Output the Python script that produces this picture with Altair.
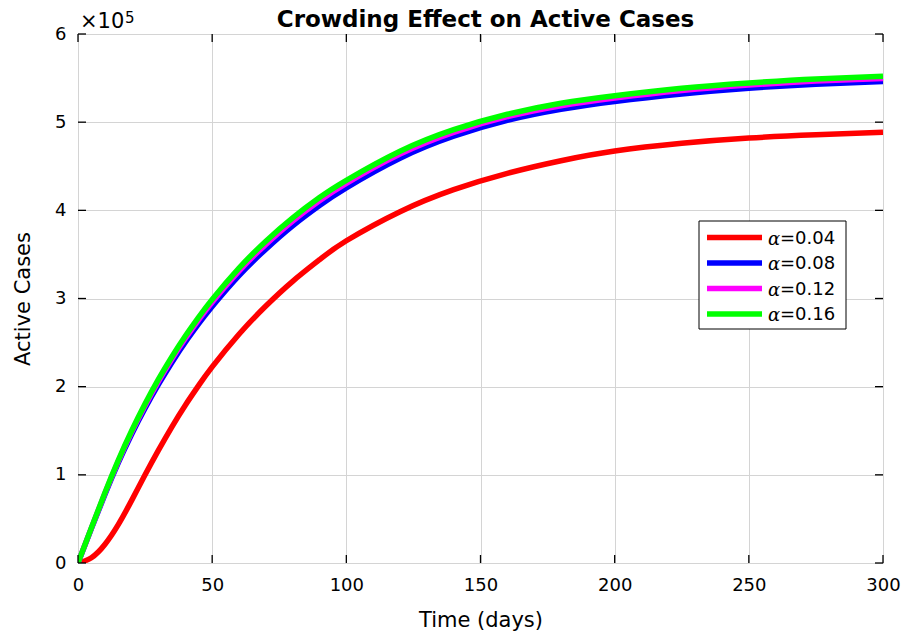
import altair as alt
import pandas as pd

# Simulated active cases (in units of 10^5) for four crowding coefficients
days = [0, 5, 10, 15, 20, 25, 30, 35, 40, 45, 50, 60, 70, 80, 90, 100,
        120, 140, 160, 180, 200, 225, 250, 275, 300]

cases_a004 = [0, 0.06, 0.21, 0.435, 0.71, 1.00, 1.28, 1.545, 1.79, 2.015, 2.225,
              2.595, 2.915, 3.195, 3.44, 3.655, 3.985, 4.235, 4.42, 4.563, 4.673,
              4.76, 4.82, 4.857, 4.885]
cases_a008 = [0, 0.39, 0.775, 1.135, 1.46, 1.755, 2.025, 2.275, 2.505, 2.715, 2.91,
              3.26, 3.56, 3.825, 4.055, 4.255, 4.59, 4.84, 5.02, 5.145, 5.235,
              5.32, 5.385, 5.43, 5.46]
cases_a012 = [0, 0.396, 0.787, 1.153, 1.484, 1.785, 2.061, 2.314, 2.547, 2.76, 2.958,
              3.311, 3.614, 3.879, 4.109, 4.306, 4.638, 4.885, 5.062, 5.187, 5.274,
              5.359, 5.421, 5.466, 5.496]
cases_a016 = [0, 0.40, 0.795, 1.165, 1.50, 1.805, 2.085, 2.34, 2.575, 2.79, 2.99,
              3.345, 3.65, 3.915, 4.145, 4.34, 4.67, 4.915, 5.09, 5.215, 5.30,
              5.385, 5.445, 5.49, 5.52]

series_labels = ["0.04", "0.08", "0.12", "0.16"]
series_colors = ["#ff0000", "#0000ff", "#ff00ff", "#00ff00"]
series_values = [cases_a004, cases_a008, cases_a012, cases_a016]

x_ticks = [0, 50, 100, 150, 200, 250, 300]
y_ticks = [0, 1, 2, 3, 4, 5, 6]

W, H = 805, 529
FONT = "DejaVu Sans"
GRID = "#d4d4d4"

x_scale = alt.Scale(domain=[0, 300], nice=False, zero=False)
y_scale = alt.Scale(domain=[0, 6], nice=False, zero=False)

x_axis = alt.Axis(values=x_ticks, format="d", title="Time (days)", grid=True,
                  gridColor=GRID, gridWidth=1, ticks=False, tickSize=0, domain=False,
                  labelFont=FONT, labelFontSize=18, labelColor="black",
                  labelPadding=13, labelFlush=False,
                  titleFont=FONT, titleFontSize=21, titleFontWeight="normal",
                  titleColor="black", titleY=63, titleBaseline="alphabetic")
y_axis = alt.Axis(values=y_ticks, format="d", title="Active Cases", grid=True,
                  gridColor=GRID, gridWidth=1, ticks=False, tickSize=0, domain=False,
                  labelFont=FONT, labelFontSize=18, labelColor="black",
                  labelPadding=12, labelFlush=False,
                  titleFont=FONT, titleFontSize=21, titleFontWeight="normal",
                  titleColor="black", titleX=-55, titleY=H / 2,
                  titleBaseline="middle", titleAngle=-90)

layers = []
for i, (lab, col, vals) in enumerate(zip(series_labels, series_colors, series_values)):
    df = pd.DataFrame({"day": days, "cases": vals})
    if i == 0:
        enc_x = alt.X("day:Q", scale=x_scale, axis=x_axis)
        enc_y = alt.Y("cases:Q", scale=y_scale, axis=y_axis)
    else:
        enc_x = alt.X("day:Q", scale=x_scale)
        enc_y = alt.Y("cases:Q", scale=y_scale)
    layers.append(
        alt.Chart(df).mark_line(color=col, strokeWidth=5.5, clip=True,
                                interpolate="natural")
        .encode(x=enc_x, y=enc_y)
    )

# inward tick marks on all four sides of the box
xt = pd.DataFrame({"day": x_ticks})
yt = pd.DataFrame({"cases": y_ticks})
tick_style = dict(color="black", strokeWidth=1.3)
xtx = alt.X("day:Q", scale=x_scale)
yty = alt.Y("cases:Q", scale=y_scale)
layers += [
    alt.Chart(xt).mark_rule(**tick_style).encode(x=xtx, y=alt.value(H), y2=alt.value(H - 8)),
    alt.Chart(xt).mark_rule(**tick_style).encode(x=xtx, y=alt.value(0), y2=alt.value(8)),
    alt.Chart(yt).mark_rule(**tick_style).encode(y=yty, x=alt.value(0), x2=alt.value(8)),
    alt.Chart(yt).mark_rule(**tick_style).encode(y=yty, x=alt.value(W), x2=alt.value(W - 8)),
]

# axis exponent
one = pd.DataFrame({"k": [0]})
layers += [
    alt.Chart(one).mark_text(text="\u00d710", font=FONT, fontSize=21, align="left",
                             baseline="alphabetic", color="black")
    .encode(x=alt.value(2), y=alt.value(-6)),
    alt.Chart(one).mark_text(text="5", font=FONT, fontSize=15, align="left",
                             baseline="alphabetic", color="black")
    .encode(x=alt.value(47), y=alt.value(-11)),
]

# legend box
LX, LY, LW, LH = 621, 187, 147, 108
layers.append(
    alt.Chart(one).mark_rect(fill="white", stroke="black", strokeWidth=1)
    .encode(x=alt.value(LX), x2=alt.value(LX + LW), y=alt.value(LY), y2=alt.value(LY + LH))
)
for i, (lab, col) in enumerate(zip(series_labels, series_colors)):
    ry = LY + 16.5 + i * 25.5
    layers += [
        alt.Chart(one).mark_rule(color=col, strokeWidth=5.5)
        .encode(x=alt.value(LX + 8), x2=alt.value(LX + 63), y=alt.value(ry)),
        alt.Chart(one).mark_text(text="\u03b1", font="DejaVu Serif", fontStyle="italic",
                                 fontSize=18, align="left", baseline="middle", color="black")
        .encode(x=alt.value(LX + 69), y=alt.value(ry + 2)),
        alt.Chart(one).mark_text(text="=" + lab, font=FONT, fontSize=18, align="left",
                                 baseline="middle", color="black")
        .encode(x=alt.value(LX + 81), y=alt.value(ry + 1)),
    ]

chart = alt.layer(*layers).properties(
    width=W, height=H,
    title=alt.TitleParams("Crowding Effect on Active Cases", font=FONT, fontSize=23,
                          fontWeight="bold", color="black", anchor="middle",
                          frame="group", offset=5, dx=5, dy=26),
    autosize=alt.AutoSizeParams(type="none"),
    padding={"left": 78, "top": 34, "right": 31, "bottom": 70},
).configure_view(stroke="black", strokeWidth=1.3).configure(background="white")

chart.save("out.html", embed_options={"renderer": "svg", "actions": False})
